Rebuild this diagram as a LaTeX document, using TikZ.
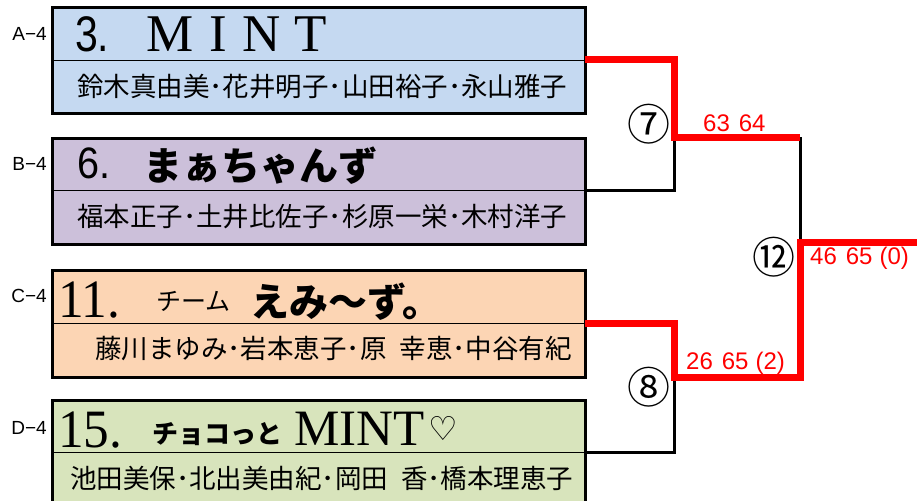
\documentclass[tikz,border=0pt]{standalone}
\usepackage{fontspec}
\usepackage{graphicx}
\setmainfont{Liberation Serif}
\newfontfamily\lab{Liberation Sans}
\newfontfamily\jp{Noto Sans CJK JP}
\newfontfamily\dv{DejaVu Sans}
\definecolor{cA}{HTML}{C5D9F1}
\definecolor{cB}{HTML}{CCC0DA}
\definecolor{cC}{HTML}{FCD5B4}
\definecolor{cD}{HTML}{D8E4BC}
\newcommand{\fs}[1]{\fontsize{#1}{#1}\selectfont}
\begin{document}
\begin{tikzpicture}[x=1pt,y=-1pt,
  half/.style={draw, line width=0.8pt, minimum width=533pt, inner sep=0pt, outer sep=0pt, anchor=north west},
  frame/.style={draw, line width=3pt},
  win/.style={draw=red, line width=7pt, line join=miter},
  lose/.style={draw=black, line width=3pt, line join=miter},
  score/.style={text=red, font=\lab\fs{24}, inner sep=0pt, anchor=west},
  rnd/.style={font=\jp\fs{43}, inner sep=0pt},
  seed/.style={font=\lab\fs{19}, inner sep=0pt, anchor=east},
  members/.style={font=\jp\fs{26.5}, inner sep=0pt, anchor=west},
  ttl/.style={inner sep=0pt, anchor=base west}]
\useasboundingbox (0,0) rectangle (917,500);
\clip (0,0) rectangle (917,500);
% boxes
\node[half, fill=cA, minimum height=52pt] (At) at (52,8) {};
\node[half, fill=cA, minimum height=54pt] (Ab) at (At.south west) {};
\draw[frame] (At.north west) rectangle (Ab.south east);
\node[half, fill=cB, minimum height=52pt] (Bt) at (52,138) {};
\node[half, fill=cB, minimum height=54pt] (Bb) at (Bt.south west) {};
\draw[frame] (Bt.north west) rectangle (Bb.south east);
\node[half, fill=cC, minimum height=53pt] (Ct) at (52,270) {};
\node[half, fill=cC, minimum height=54pt] (Cb) at (Ct.south west) {};
\draw[frame] (Ct.north west) rectangle (Cb.south east);
\node[half, fill=cD, minimum height=52pt] (Dt) at (52,400) {};
\node[half, fill=cD, minimum height=56pt] (Db) at (Dt.south west) {};
\draw[frame] (Dt.north west) rectangle (Db.south east);
% seed labels
\node[seed] (sA) at (47,34) {A−4};
\node[seed] (sB) at (47,164) {B−4};
\node[seed] (sC) at (47,296) {C−4};
\node[seed] (sD) at (47,428) {D−4};
% titles
\node[ttl] (tA1) at (75,52) {\lab\fs{50}\scalebox{0.82}[1]{3.}};
\node[ttl] (tA2) at (146,52) {\fs{53}M\hspace{16pt}I\hspace{16pt}N\hspace{13pt}T};
\node[ttl] (tB1) at (77,178) {\lab\fs{44}\scalebox{0.9}[1]{6.}};
\node[ttl] (tB2) at (143,180) {\jp\bfseries\fs{39}まぁちゃんず};
\node[ttl] (tC1) at (58,317) {\fs{54}\scalebox{0.95}[1]{11.}};
\node[ttl] (tC2) at (156,310) {\jp\fs{25}チーム};
\node[ttl] (tC3) at (250,316) {\jp\bfseries\fs{39}えみ～ず。};
\node[ttl] (tD1) at (58,447) {\fs{54}\scalebox{0.95}[1]{15.}};
\node[ttl] (tD2) at (152,443) {\jp\bfseries\fs{26}チョコっと};
\node[ttl] (tD3) at (294,445) {\fs{51}MINT};
\node[ttl] (tD4) at (428,440) {\dv\fs{33}♡};
% members
\node[members] (mA) at (77,87) {鈴木真由美･花井明子･山田裕子･永山雅子};
\node[members] (mB) at (77,217) {福本正子･土井比佐子･杉原一栄･木村洋子};
\node[members] (mC) at (95,349) {藤川まゆみ･岩本恵子･原\hspace{13pt}幸恵･中谷有紀};
\node[members] (mD) at (70,478) {池田美保･北出美由紀･岡田\hspace{13pt}香･橋本理恵子};
% bracket junctions
\coordinate (j7) at (674,137);
\coordinate (j7r) at (800,137);
\coordinate (j8) at (674,377);
\coordinate (j8r) at (800,377);
\coordinate (j12) at (800,242);
\coordinate (fin) at (917,242);
% losing lines
\draw[lose] (Bt.south east) -| (j7);
\draw[lose] (Dt.south east) -| (j8);
\draw[lose] (j7r) -- (j12);
% winning lines
\draw[win] (At.south east) -| (j7) -- (j7r);
\draw[win] (Ct.south east) -| (j8) -- (j8r) -- (j12) -- (fin);
% match numbers
\node[rnd] (r7) at (649,124) {⑦};
\node[rnd] (r8) at (649,387) {⑧};
\node[rnd] (r12) at (774,257) {⑫};
% scores
\node[score] (s7) at (703,123) {63\hspace{9pt}64};
\node[score] (s8) at (686,363) {26\hspace{9pt}65\hspace{7pt}(2)};
\node[score] (s12) at (810,258) {46\hspace{9pt}65\hspace{7pt}(0)};
\end{tikzpicture}
\end{document}
